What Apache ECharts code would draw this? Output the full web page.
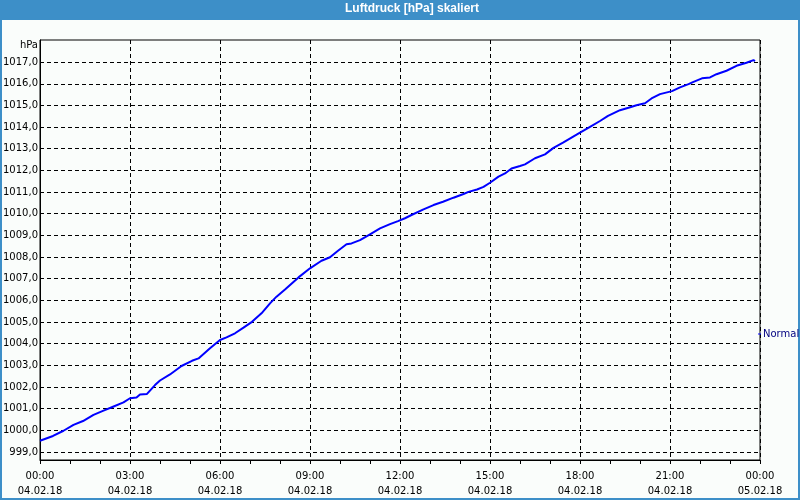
<!DOCTYPE html>
<html>
<head>
<meta charset="utf-8">
<script src="https://cdn.jsdelivr.net/npm/echarts@6/dist/echarts.min.js"></script>
<style>
html,body{margin:0;padding:0;background:#fafdfb;}
#chart{width:800px;height:500px;}
</style>
</head>
<body>
<div id="chart"></div>
<script>
// minutes since 04.02.18 00:00
const times = [0,26,47,67,86,107,127,146,167,180,193,200,214,230,240,260,283,304,317,340,
  360,373,390,407,424,443,460,473,490,517,540,563,580,596,613,623,640,660,680,700,
  716,730,743,767,787,806,827,847,857,874,887,900,917,930,943,960,970,990,1010,1027,
  1046,1063,1080,1100,1120,1136,1160,1177,1193,1210,1223,1240,1250,1264,1280,1297,1307,1324,1340,1353,
  1373,1393,1413,1427,1430];
const pressure = [999.52,999.74,999.98,1000.25,1000.43,1000.71,1000.91,1001.09,1001.29,1001.48,1001.51,1001.65,1001.68,1002.09,1002.30,1002.58,1002.97,1003.21,1003.32,1003.79,
  1004.17,1004.29,1004.48,1004.74,1005.01,1005.40,1005.86,1006.17,1006.50,1007.06,1007.48,1007.83,1007.99,1008.29,1008.59,1008.63,1008.78,1009.05,1009.32,1009.52,
  1009.66,1009.79,1009.94,1010.20,1010.40,1010.55,1010.74,1010.91,1011.01,1011.12,1011.24,1011.43,1011.71,1011.86,1012.09,1012.20,1012.28,1012.56,1012.74,1013.04,
  1013.28,1013.51,1013.74,1014.01,1014.28,1014.52,1014.78,1014.89,1015.01,1015.10,1015.32,1015.52,1015.58,1015.66,1015.83,1015.98,1016.09,1016.25,1016.29,1016.44,
  1016.60,1016.83,1016.97,1017.09,1017.05];
const tickTimes = ['00:00','03:00','06:00','09:00','12:00','15:00','18:00','21:00','00:00'];
const tickDates = ['04.02.18','04.02.18','04.02.18','04.02.18','04.02.18','04.02.18','04.02.18','04.02.18','05.02.18'];
const yTicks = [999,1000,1001,1002,1003,1004,1005,1006,1007,1008,1009,1010,1011,1012,1013,1014,1015,1016,1017];
const seriesName = 'Normal';
const titleText = 'Luftdruck [hPa] skaliert';
const yUnit = 'hPa';

const FONT = 'DejaVu Sans';
const chart = echarts.init(document.getElementById('chart'));
const option = {
  backgroundColor: '#fafdfb',
  animation: false,
  title: {
    text: titleText, left: 345, top: 3, padding: 0,
    textStyle: {color: '#ffffff', fontWeight: 'bold', fontSize: 12, fontFamily: 'Liberation Sans'}
  },
  graphic: [
    {type: 'rect', z: -10, silent: true, shape: {x: 0, y: 0, width: 800, height: 20}, style: {fill: '#3d8fc8'}},
    {type: 'rect', z: -10, silent: true, shape: {x: 1, y: 1, width: 798, height: 498}, style: {fill: null, stroke: '#3d8fc8', lineWidth: 2}}
  ],
  legend: {
    data: [seriesName], left: 758, top: 329, icon: 'rect', itemWidth: 3, itemHeight: 1,
    selectedMode: false, padding: 0,
    textStyle: {color: '#000080', fontSize: 10, fontFamily: FONT, padding: [0, 0, 0, -3]}
  },
  grid: {
    left: 40, top: 40, width: 720, height: 420, show: true,
    borderColor: '#000', borderWidth: 1, backgroundColor: 'transparent'
  },
  xAxis: {
    type: 'value', min: 0, max: 1440, interval: 180,
    axisLine: {show: true, lineStyle: {color: '#000', width: 1}},
    axisTick: {show: true, length: 4, inside: false, lineStyle: {color: '#000'}},
    minorTick: {show: true, splitNumber: 3, length: 4, lineStyle: {color: '#000'}},
    splitLine: {show: true, lineStyle: {color: '#000', type: [4, 3], width: 1}},
    axisLabel: {
      margin: 9, fontSize: 10, fontFamily: FONT, color: '#000', lineHeight: 15,
      formatter: function (v) { const i = Math.round(v / 180); return tickTimes[i] + '\n' + tickDates[i]; }
    }
  },
  yAxis: {
    type: 'value', min: 998.63, max: 1018.02,
    name: yUnit, nameLocation: 'end', nameGap: -5,
    nameTextStyle: {align: 'right', verticalAlign: 'middle', padding: [0, 2, 0, 0], fontSize: 10, fontFamily: FONT, color: '#000'},
    axisLine: {show: true, lineStyle: {color: '#000', width: 1}},
    axisTick: {show: false, customValues: yTicks},
    splitLine: {show: true, lineStyle: {color: '#000', type: [4, 3], width: 1}},
    axisLabel: {
      customValues: yTicks, margin: 2, fontSize: 10, fontFamily: FONT, color: '#000',
      formatter: function (v) { return v.toFixed(1).replace('.', ','); }
    }
  },
  series: [{
    name: seriesName, type: 'line', showSymbol: false, symbol: 'none',
    data: times.map((t, i) => [t, pressure[i]]),
    lineStyle: {color: '#0000ff', width: 2}, itemStyle: {color: '#0000ff'}
  }]
};
chart.setOption(option);
</script>
</body>
</html>
